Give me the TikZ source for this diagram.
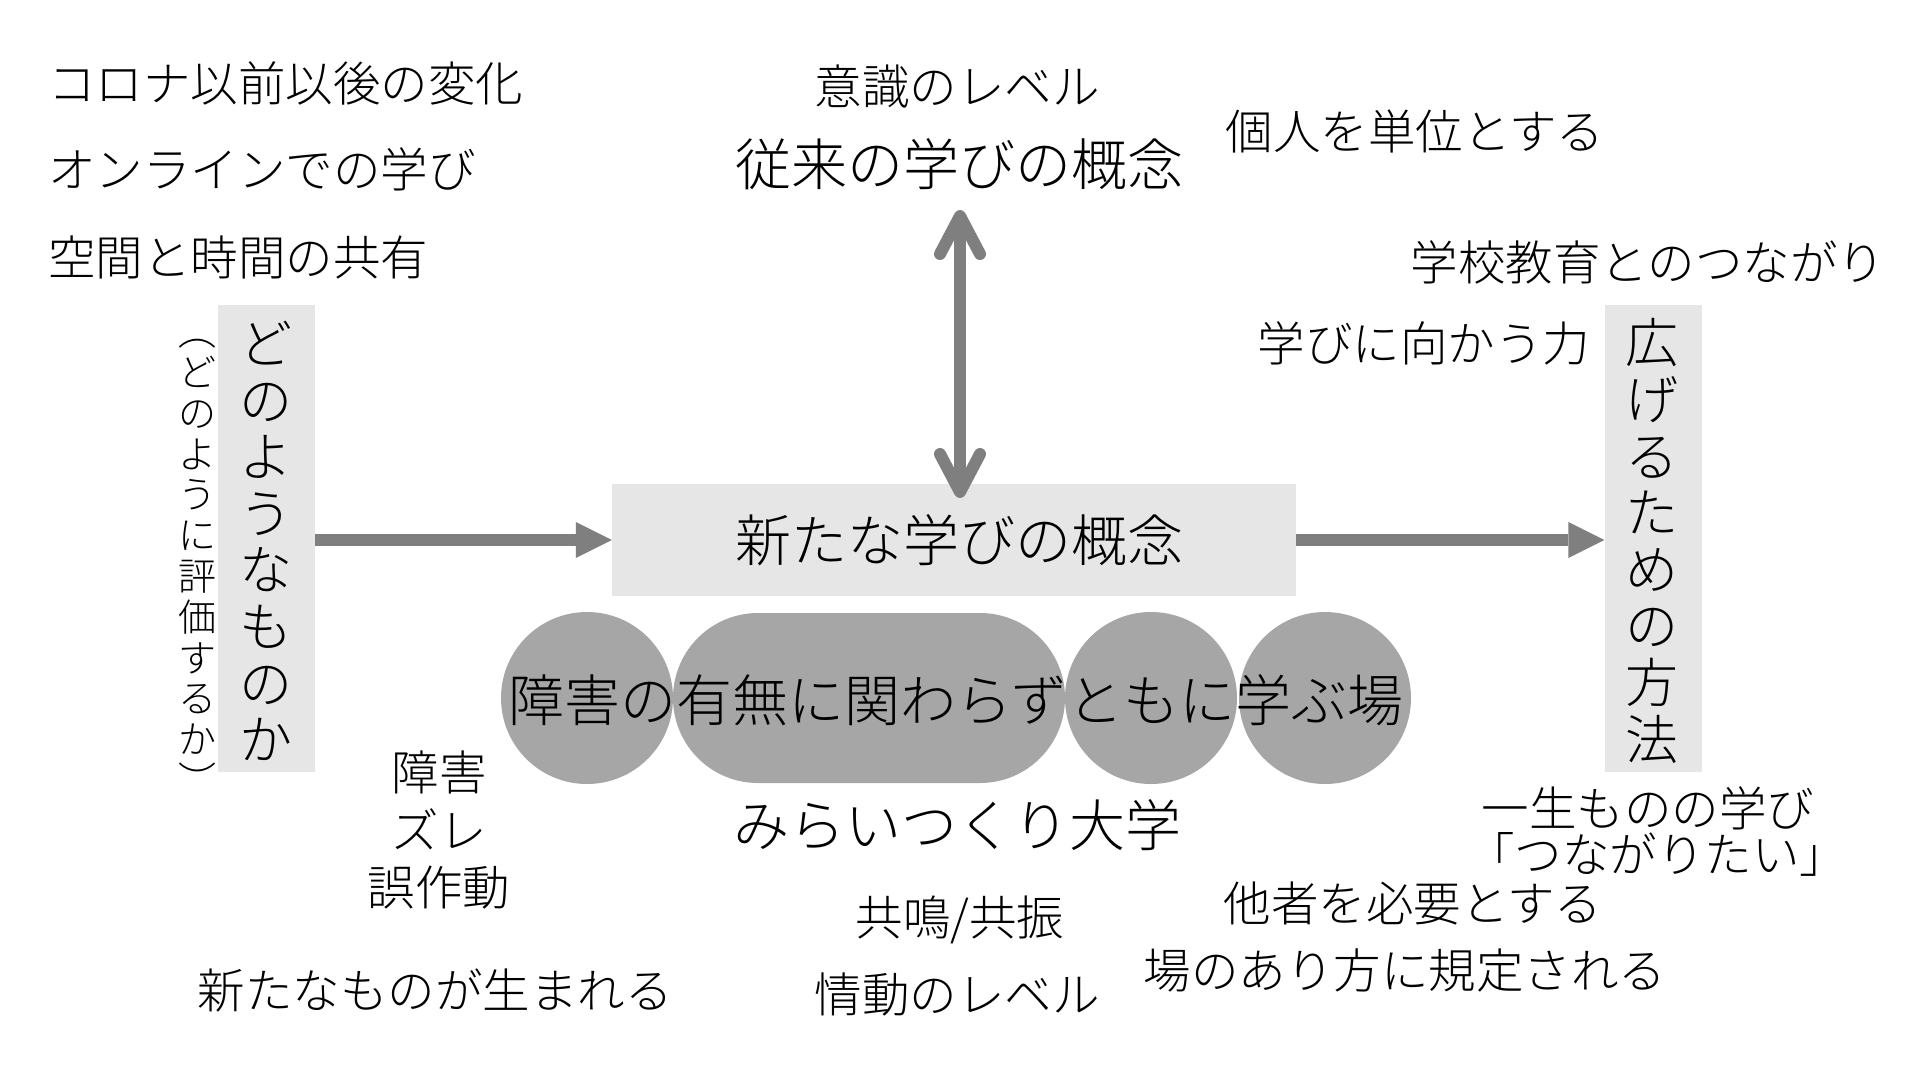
\documentclass[tikz,border=0pt]{standalone}
\usepackage{fontspec}
\newfontfamily\jp{Noto Sans CJK JP Light}
\usetikzlibrary{arrows.meta}
\definecolor{boxgray}{HTML}{E7E6E6}
\definecolor{circgray}{HTML}{A6A6A6}
\definecolor{arrgray}{HTML}{7F7F7F}
\tikzset{
  sm/.style={font=\jp\fontsize{47.5}{57}\selectfont, inner sep=0pt, text=black},
  bg/.style={font=\jp\fontsize{56}{60}\selectfont, inner sep=0pt, text=black},
  vmain/.style={font=\jp\fontsize{53}{56.6}\selectfont, inner sep=0pt, align=center},
  vsub/.style={font=\jp\fontsize{38}{40.8}\selectfont, inner sep=0pt, align=center},
  vbox/.style={fill=boxgray, draw=none, minimum width=97pt, minimum height=467pt, inner sep=0pt},
  blob/.style={fill=circgray, draw=none, circle, minimum size=172pt, inner sep=0pt},
  harrow/.style={draw=arrgray, line width=12pt, -{Triangle[length=36pt,width=36pt,line width=0pt]}},
  darrow/.style={draw=arrgray, line width=12pt, {Straight Barb[length=38pt,width=40pt,round]}-{Straight Barb[length=38pt,width=40pt,round]}},
}
\begin{document}
\begin{tikzpicture}[x=1pt,y=-1pt]
\useasboundingbox (0,0) rectangle (1920,1080);
\fill[white] (0,0) rectangle (1920,1080);

% top-left notes
\node[sm, anchor=west] (corona) at (48,83) {コロナ以前以後の変化};
\node[sm, anchor=west] (online) at (48,169) {オンラインでの学び};
\node[sm, anchor=west] (kukan) at (48,257) {空間と時間の共有};

% top centre
\node[sm] (ishiki) at (957,87) {意識のレベル};
\node[bg] (trad) at (959,164) {従来の学びの概念};
\node[sm] (kojin) at (1415,131) {個人を単位とする};

% right notes
\node[sm] (gakko) at (1648,262) {学校教育とのつながり};
\node[sm] (mukau) at (1424,343) {学びに向かう力};
\node[sm] (issho) at (1648,808) {一生ものの学び};
\node[sm] (tsuna) at (1657,854) {「つながりたい」};
\node[sm] (tasha) at (1413,903) {他者を必要とする};
\node[sm] (ba) at (1405,970) {場のあり方に規定される};

% vertical boxes
\node[vbox] (lbox) at (266.5,538.5) {};
\node[vmain] (ltext) at (266,541) {ど\\の\\よ\\う\\な\\も\\の\\か};
\node[vsub] (lsub) at (197,567) {︵\\ど\\の\\よ\\う\\に\\評\\価\\す\\る\\か\\︶};
\node[vbox] (rbox) at (1653,538.5) {};
\node[vmain] (rtext) at (1652,541) {広\\げ\\る\\た\\め\\の\\方\\法};

% central box
\node[fill=boxgray, draw=none, minimum width=684pt, minimum height=112pt, inner sep=0pt] (newbox) at (954,540) {};
\node[bg] (newtext) at (959,540) {新たな学びの概念};

% blobs
\node[blob] (c1) at (587,698) {};
\node[fill=circgray, draw=none, rounded corners=85pt, minimum width=392pt, minimum height=170pt, inner sep=0pt] (pill) at (869,698) {};
\node[blob] (c3) at (1151,698) {};
\node[blob] (c4) at (1325,698) {};
\node[bg] (batext) at (956,700) {障害の有無に関わらずともに学ぶ場};

% bottom texts
\node[bg] (mirai) at (957,825) {みらいつくり大学};
\node[sm] (kyomei) at (960,920) {共鳴/共振};
\node[sm] (jodo) at (957,995) {情動のレベル};
\node[sm] (shogai) at (439,772) {障害};
\node[sm] (zure) at (439,829) {ズレ};
\node[sm] (gosa) at (439,888) {誤作動};
\node[sm] (umareru) at (435,991) {新たなものが生まれる};

% arrows
\draw[harrow] (lbox.east |- newbox.west) -- (newbox.west);
\draw[harrow] (newbox.east) -- (rbox.west |- newbox.east);
\coordinate (dtop) at (960,210);
\coordinate (dbot) at (960,498);
\draw[darrow] (dtop) -- (dbot);
\end{tikzpicture}
\end{document}
